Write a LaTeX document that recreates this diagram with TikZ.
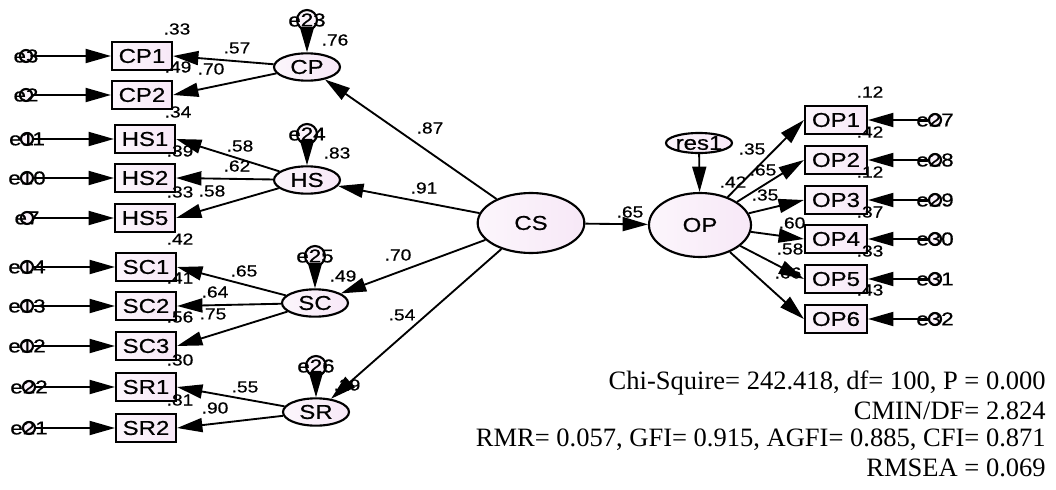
\documentclass[tikz,border=0pt]{standalone}
\usepackage{fontspec}
\setsansfont{Liberation Sans}[FakeStretch=1.2,FakeBold=0.6]
\setmainfont{Liberation Serif}
\usetikzlibrary{shapes.geometric,arrows.meta}
\definecolor{amospink}{RGB}{247,232,247}
\begin{document}
\begin{tikzpicture}[x=0.75pt,y=-0.75pt,
  conn/.style={line width=1.4pt,-{Triangle[length=19pt,width=10.5pt]}},
  obs/.style={draw,line width=1.6pt,rectangle,minimum width=45pt,minimum height=21pt,inner sep=0pt,
    left color=amospink!40!white,right color=amospink,font=\sffamily\fontsize{15}{15}\selectfont},
  lat/.style={draw,line width=1.6pt,ellipse,minimum width=49.5pt,minimum height=20.5pt,inner sep=0pt,
    left color=amospink!40!white,right color=amospink,font=\sffamily\fontsize{15}{15}\selectfont},
  biglat/.style={lat,minimum width=80pt,minimum height=45pt},
  err/.style={draw,line width=1.6pt,circle,minimum size=9pt,inner sep=0pt,fill=amospink!50!white},
  errbig/.style={err,minimum size=15pt},
  errtxt/.style={font=\sffamily\fontsize{14}{14}\selectfont,inner sep=0pt},
  lbl/.style={font=\sffamily\fontsize{12}{12}\selectfont,inner sep=0pt},
  stat/.style={font=\fontsize{19.9}{21}\selectfont,anchor=east,inner sep=0pt}]
\useasboundingbox (0,0) rectangle (1056,489);

% observed indicators, left block
\node[obs] (cp1) at (142,56) {CP1};
\node[obs] (cp2) at (142,95) {CP2};
\node[obs] (hs1) at (145,139) {HS1};
\node[obs] (hs2) at (145,178) {HS2};
\node[obs] (hs5) at (145,218) {HS5};
\node[obs] (sc1) at (146,267) {SC1};
\node[obs] (sc2) at (146,306) {SC2};
\node[obs] (sc3) at (146,346) {SC3};
\node[obs] (sr1) at (146,387) {SR1};
\node[obs] (sr2) at (146,428) {SR2};

% measurement errors, left block
\node[err,label={[errtxt]center:e3}]  (e3)  at (26,56) {};
\node[err,label={[errtxt]center:e2}]  (e2)  at (26,95) {};
\node[err,label={[errtxt]center:e11}] (e11) at (27,139) {};
\node[err,label={[errtxt]center:e10}] (e10) at (27,178) {};
\node[err,label={[errtxt]center:e7}]  (e7)  at (27,218) {};
\node[err,label={[errtxt]center:e14}] (e14) at (27,267) {};
\node[err,label={[errtxt]center:e13}] (e13) at (27,306) {};
\node[err,label={[errtxt]center:e12}] (e12) at (27,346) {};
\node[err,label={[errtxt]center:e22}] (e22) at (29,387) {};
\node[err,label={[errtxt]center:e21}] (e21) at (29,428) {};

% first-order factors
\node[lat] (cp) at (307,67) {CP};
\node[lat] (hs) at (307,180) {HS};
\node[lat] (sc) at (315,303) {SC};
\node[lat] (sr) at (316,412) {SR};

% disturbances of the first-order factors
\node[errbig,label={[errtxt]center:e23}] (e23) at (307,20) {};
\node[errbig,label={[errtxt]center:e24}] (e24) at (307,134) {};
\node[errbig,label={[errtxt]center:e25}] (e25) at (315,256) {};
\node[errbig,label={[errtxt]center:e26}] (e26) at (316,366) {};

% second-order factor and outcome
\node[biglat] (cs) at (531,223) {CS};
\node[biglat,minimum width=76.5pt,minimum height=48pt] (op) at (700,225) {OP};
\node[lat,minimum width=39pt,minimum height=15pt] (res1) at (699,143) {res1};

% outcome indicators
\node[obs,minimum width=46.5pt] (op1) at (836,120) {OP1};
\node[obs,minimum width=46.5pt] (op2) at (836,160) {OP2};
\node[obs,minimum width=46.5pt] (op3) at (836,200) {OP3};
\node[obs,minimum width=46.5pt] (op4) at (836,239) {OP4};
\node[obs,minimum width=46.5pt] (op5) at (836,279) {OP5};
\node[obs,minimum width=46.5pt] (op6) at (836,319) {OP6};

\node[err,label={[errtxt]center:e27}] (e27) at (935,120) {};
\node[err,label={[errtxt]center:e28}] (e28) at (935,160) {};
\node[err,label={[errtxt]center:e29}] (e29) at (935,200) {};
\node[err,label={[errtxt]center:e30}] (e30) at (935,239) {};
\node[err,label={[errtxt]center:e31}] (e31) at (935,279) {};
\node[err,label={[errtxt]center:e32}] (e32) at (935,319) {};

% error paths
\foreach \e/\v in {e3/cp1,e2/cp2,e11/hs1,e10/hs2,e7/hs5,e14/sc1,e13/sc2,e12/sc3,e22/sr1,e21/sr2,
                   e27/op1,e28/op2,e29/op3,e30/op4,e31/op5,e32/op6,
                   e23/cp,e24/hs,e25/sc,e26/sr,res1/op}
  \draw[conn] (\e) -- (\v);

% loadings
\foreach \f/\v in {cp/cp1,cp/cp2,hs/hs1,hs/hs2,hs/hs5,sc/sc1,sc/sc2,sc/sc3,sr/sr1,sr/sr2}
  \draw[conn] (\f) -- (\v.east);
\foreach \v in {op1,op2,op3,op4,op5,op6}
  \draw[conn] (op) -- (\v.west);
\foreach \f in {cp,hs,sc,sr,op}
  \draw[conn] (cs) -- (\f);

% estimates
\node[lbl] (r1) at (177,29) {.33};
\node[lbl] (r2) at (335,40) {.76};
\node[lbl] (r3) at (237,48) {.57};
\node[lbl] (r4) at (178,67) {.49};
\node[lbl] (r5) at (211,69) {.70};
\node[lbl] (r6) at (178,112) {.34};
\node[lbl] (r7) at (240,146) {.58};
\node[lbl] (r8) at (180,151) {.39};
\node[lbl] (r9) at (237,166) {.62};
\node[lbl] (r10) at (337,153) {.83};
\node[lbl] (r11) at (180,192) {.33};
\node[lbl] (r12) at (212,191) {.58};
\node[lbl] (r13) at (180,239) {.42};
\node[lbl] (r14) at (244,271) {.65};
\node[lbl] (r15) at (180,278) {.41};
\node[lbl] (r16) at (215,292) {.64};
\node[lbl] (r17) at (180,317) {.56};
\node[lbl] (r18) at (213,314) {.75};
\node[lbl] (r19) at (343,276) {.49};
\node[lbl] (r20) at (180,360) {.30};
\node[lbl] (r21) at (245,387) {.55};
\node[lbl] (r22) at (180,400) {.81};
\node[lbl] (r23) at (215,408) {.90};
\node[lbl] (r24) at (347,385) {.29};
\node[lbl] (r25) at (430,128) {.87};
\node[lbl] (r26) at (424,188) {.91};
\node[lbl] (r27) at (398,255) {.70};
\node[lbl] (r28) at (402,315) {.54};
\node[lbl] (r29) at (630,212) {.65};
\node[lbl] (r30) at (870,92) {.12};
\node[lbl] (r31) at (870,132) {.42};
\node[lbl] (r32) at (870,172) {.12};
\node[lbl] (r33) at (870,212) {.37};
\node[lbl] (r34) at (870,251) {.33};
\node[lbl] (r35) at (870,290) {.43};
\node[lbl] (r36) at (752,149) {.35};
\node[lbl] (r37) at (763,170) {.65};
\node[lbl] (r38) at (733,182) {.42};
\node[lbl] (r39) at (765,195) {.35};
\node[lbl] (r40) at (792,223) {.60};
\node[lbl] (r41) at (790,249) {.58};
\node[lbl] (r42) at (788,273) {.66};

% fit statistics
\node[stat] (s1) at (1046,383) {Chi-Squire= 242.418, df= 100, P = 0.000};
\node[stat] (s2) at (1046,411) {CMIN/DF= 2.824};
\node[stat] (s3) at (1046,440) {RMR= 0.057, GFI= 0.915, AGFI= 0.885, CFI= 0.871};
\node[stat] (s4) at (1046,468) {RMSEA = 0.069};
\end{tikzpicture}
\end{document}
